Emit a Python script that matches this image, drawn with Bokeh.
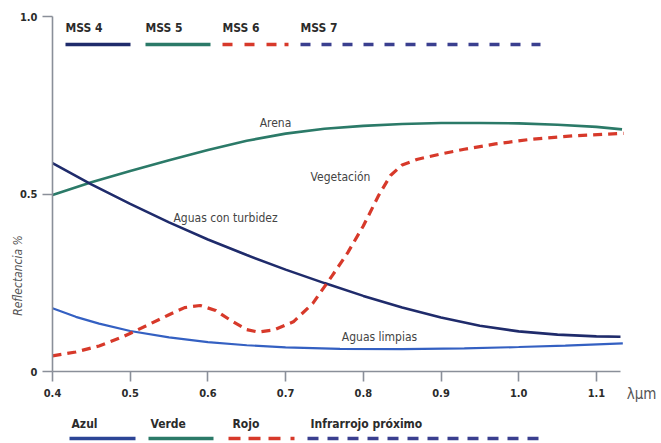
import math
from bokeh.plotting import figure
from bokeh.models import Label, FixedTicker
from bokeh.core.properties import value
from bokeh.embed import file_html
from bokeh.resources import INLINE

# ---------------- data ----------------
arena_x = [0.40, 0.45, 0.50, 0.55, 0.60, 0.65, 0.70, 0.75, 0.80, 0.85, 0.90, 0.95, 1.00, 1.05, 1.10, 1.133]
arena_y = [0.497, 0.533, 0.565, 0.595, 0.624, 0.650, 0.670, 0.684, 0.692, 0.697, 0.700, 0.700, 0.699, 0.695, 0.689, 0.682]

turbia_x = [0.40, 0.45, 0.50, 0.55, 0.60, 0.65, 0.70, 0.75, 0.80, 0.85, 0.90, 0.95, 1.00, 1.05, 1.10, 1.131]
turbia_y = [0.587, 0.527, 0.472, 0.420, 0.372, 0.328, 0.287, 0.249, 0.213, 0.180, 0.152, 0.129, 0.113, 0.104, 0.099, 0.098]

limpia_x = [0.40, 0.43, 0.46, 0.50, 0.55, 0.60, 0.65, 0.70, 0.77, 0.85, 0.93, 1.00, 1.06, 1.134]
limpia_y = [0.178, 0.154, 0.135, 0.114, 0.096, 0.083, 0.074, 0.068, 0.064, 0.063, 0.065, 0.069, 0.073, 0.079]

veget_x = [0.40, 0.43, 0.46, 0.49, 0.52, 0.55, 0.57, 0.59, 0.61, 0.63, 0.65, 0.665, 0.685, 0.71, 0.735,
           0.76, 0.78, 0.80, 0.82, 0.835, 0.85, 0.87, 0.90, 0.93, 0.97, 1.015, 1.07, 1.135]
veget_y = [0.044, 0.055, 0.072, 0.097, 0.128, 0.160, 0.180, 0.186, 0.172, 0.143, 0.118, 0.111, 0.117, 0.140, 0.192,
           0.270, 0.335, 0.410, 0.497, 0.552, 0.582, 0.598, 0.613, 0.626, 0.641, 0.654, 0.664, 0.671]

x_ticks = [0.4, 0.5, 0.6, 0.7, 0.8, 0.9, 1.0, 1.1]
x_tick_labels = ["0.4", "0.5", "0.6", "0.7", "0.8", "0.9", "1.0", "1.1"]
y_ticks = [0, 0.5, 1.0]
y_tick_labels = ["0", "0.5", "1.0"]

curve_names = ["Arena", "Vegetación", "Aguas con turbidez", "Aguas limpias"]
top_keys = ["MSS 4", "MSS 5", "MSS 6", "MSS 7"]
bottom_keys = ["Azul", "Verde", "Rojo", "Infrarrojo próximo"]
y_title = "Reflectancia %"
x_unit = "λµm"

# ---------------- colours & fonts ----------------
NAVY = "#1f2b6b"
GREEN = "#2b7a68"
RED = "#d7392a"
BLUE = "#3460c2"
NAVY2 = "#3a3f8f"
AXIS = "#8a8f99"
TXT = "#2b2b2b"
FONT = "'Liberation Sans Narrow', 'DejaVu Sans Condensed', 'Liberation Sans', sans-serif"

# ---------------- geometry (pixel mapping) ----------------
W, H = 661, 443
X0PX, XSCALE = 52.0, 777.0      # x=0.4 at px 52, 777 px per unit
Y0PX, YSCALE = 371.0, 355.0     # y=0 at py 371, 355 px per unit
XS = 0.4 - X0PX / XSCALE
XE = XS + W / XSCALE
YE = Y0PX / YSCALE
YS = YE - H / YSCALE


def dx(px):
    return 0.4 + (px - X0PX) / XSCALE


def dy(py):
    return (Y0PX - py) / YSCALE


p = figure(width=W, height=H, x_range=(XS, XE), y_range=(YS, YE),
           output_backend="svg", toolbar_location=None, min_border=0,
           background_fill_color="white", border_fill_color="white")
p.outline_line_color = None
p.grid.visible = False

for ax in (p.xaxis[0], p.yaxis[0]):
    ax.axis_line_color = AXIS
    ax.axis_line_width = 1.6
    ax.major_tick_line_color = AXIS
    ax.major_tick_line_width = 1.6
    ax.major_tick_in = 0
    ax.major_tick_out = 10
    ax.minor_tick_line_color = None
    ax.major_label_text_font = FONT
    ax.major_label_text_font_style = "bold"
    ax.major_label_text_font_size = "11px"
    ax.major_label_text_color = TXT

p.xaxis.fixed_location = 0
p.xaxis.bounds = (0.4, dx(620))
p.xaxis.ticker = FixedTicker(ticks=x_ticks)
p.xaxis.major_label_overrides = {t: l for t, l in zip(x_ticks, x_tick_labels)}
p.xaxis.major_label_standoff = 7

p.yaxis.fixed_location = 0.4
p.yaxis.bounds = (0, 1.0)
p.yaxis.ticker = FixedTicker(ticks=y_ticks)
p.yaxis.major_label_overrides = {t: l for t, l in zip(y_ticks, y_tick_labels)}
p.yaxis.major_label_standoff = 5

# ---------------- curves ----------------
p.line(arena_x, arena_y, line_color=GREEN, line_width=2.6)
p.line(limpia_x, limpia_y, line_color=BLUE, line_width=2.2)
p.line(turbia_x, turbia_y, line_color=NAVY, line_width=2.6)
p.line(veget_x, veget_y, line_color=RED, line_width=3.2, line_dash="9 6")

# curve labels
for name, (cx, cy) in zip(curve_names, [(275, 122), (340, 176), (225, 217), (379, 336)]):
    p.add_layout(Label(x=dx(cx), y=dy(cy), text=name, text_align="center", text_baseline="middle",
                       text_font=FONT, text_font_size="12px", text_color="#444444"))

# axis titles
p.add_layout(Label(x=dx(17), y=dy(275), text=y_title, angle=math.pi / 2, text_align="center",
                   text_baseline="middle", text_font=FONT, text_font_style="italic",
                   text_font_size="12px", text_color="#555555"))
p.add_layout(Label(x=dx(641), y=dy(393), text=x_unit, text_align="center", text_baseline="middle",
                   text_font=FONT, text_font_size="15px", text_color="#555555"))

# ---------------- key strips (top: MSS bands, bottom: spectral regions) ----------------
def key(text, tx, ty, ly, segs, color, width, dash):
    p.add_layout(Label(x=dx(tx), y=dy(ty), text=text, text_align="left", text_baseline="middle",
                       text_font=FONT, text_font_style="bold", text_font_size="12px", text_color=TXT))
    for (a, b), d in zip(segs, dash):
        p.segment(x0=[dx(a)], y0=[dy(ly)], x1=[dx(b)], y1=[dy(ly)], line_color=color,
                  line_width=width, line_dash=d)

TOP_T, TOP_L = 27, 44
key(top_keys[0], 65, TOP_T, TOP_L, [(65, 130)], NAVY, 3.5, ["solid"])
key(top_keys[1], 145, TOP_T, TOP_L, [(145, 210)], GREEN, 3.5, ["solid"])
key(top_keys[2], 222, TOP_T, TOP_L, [(222, 277), (284, 288)], RED, 3.5, ["10 12", "solid"])
key(top_keys[3], 300, TOP_T, TOP_L, [(300, 540)], NAVY2, 3.5, ["10 11"])

BOT_T, BOT_L = 423, 438
key(bottom_keys[0], 71, BOT_T, BOT_L, [(69, 135)], "#2c4596", 3.5, ["solid"])
key(bottom_keys[1], 150, BOT_T, BOT_L, [(148, 213)], GREEN, 3.5, ["solid"])
key(bottom_keys[2], 232, BOT_T, BOT_L, [(228, 281), (290, 294)], RED, 3.5, ["12 8", "solid"])
key(bottom_keys[3], 310, BOT_T, BOT_L, [(307, 545)], NAVY2, 3.5, ["11 9"])

open("out.html", "w").write(file_html(p, INLINE))
